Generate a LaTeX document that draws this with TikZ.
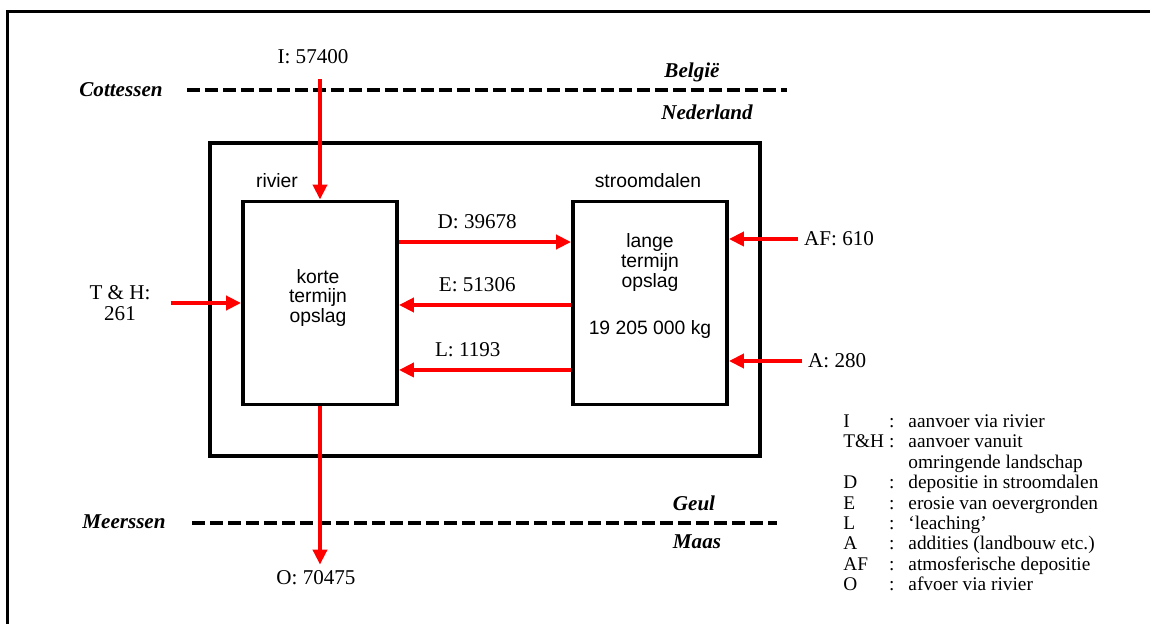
\documentclass[tikz,border=0pt]{standalone}
\usepackage{fontspec}
\setmainfont{Liberation Serif}
\setsansfont{Liberation Sans}
\usepackage{tikz}
\usetikzlibrary{arrows.meta, positioning}

\begin{document}
\begin{tikzpicture}[x=0.02cm, y=-0.02cm,
        store/.style={rectangle, draw, line width=2.2pt, minimum width=3.08cm, minimum height=4.06cm},
        system/.style={rectangle, draw, line width=2.2pt, minimum width=11cm, minimum height=6.26cm},
        boxtext/.style={align=center, font=\sffamily\fontsize{11}{11.3}\selectfont},
        flow/.style={-{Triangle[length=0.3cm, width=0.28cm]}, red, line width=2.2pt},
        border/.style={dash pattern=on 0.26cm off 0.1cm, line width=2.5pt},
        place/.style={font=\bfseries\itshape\fontsize{12}{14}\selectfont},
        amount/.style={align=center, text=black, font=\fontsize{12}{11.5}\selectfont}
    ]
        \useasboundingbox (0,0) rectangle (1150,624);
        \draw[line width=1.9pt] (7.5,624) -- (7.5,11.5) -- (1150,11.5);

        % grenzen
        \draw[border] (187,90) -- (787,90);
        \draw[border] (192,523) -- (777,523);
        \node[place] (cot) at (121,90) {Cottessen};
        \node[place] (bel) at (692,72) {België};
        \node[place] (ned) at (707,112) {Nederland};
        \node[place] (mee) at (124,522) {Meerssen};
        \node[place] (geul) at (694,503) {Geul};
        \node[place] (maas) at (697,542) {Maas};

        % compartimenten
        \node[system] (sys) at (485,299.5) {};
        \node[store] (lb) at (320,303) {};
        \node[store] (rb) at (650,303) {};
        \node[boxtext] (riv) at (277,181) {rivier};
        \node[boxtext] (str) at (648,181) {stroomdalen};
        \node[boxtext] (kort) at (318,298) {korte\\termijn\\opslag};
        \node[boxtext] (lang) at (650,286) {lange\\termijn\\opslag\\[15.5pt]19 205 000 kg};

        % fluxen
        \node[amount] (iin) at (313,57) {I: 57400};
        \node[amount] (out) at (316,578) {O: 70475};
        \node[amount] (tnh) at (120,303) {T \& H:\\261};
        \node[amount, anchor=west] (af) at (798,239) {AF: 610};
        \node[amount, anchor=west] (add) at (802,361) {A: 280};

        \draw[flow, shorten <=0.18cm] (iin.south -| lb.north) -- (lb.north);
        \draw[flow] (lb.south) -- (lb.south |- out.north);
        \draw[flow, shorten <=0.28cm] (tnh.east) -- (tnh.east -| lb.west);
        \draw[flow] (af.west) -- (af.west -| rb.east);
        \draw[flow] (add.west) -- (add.west -| rb.east);

        \draw[flow] ([yshift=1.22cm]lb.east) -- ([yshift=1.22cm]rb.west) node[amount, pos=0.455, above=3pt] {D: 39678};
        \draw[flow] ([yshift=-0.04cm]rb.west) -- ([yshift=-0.04cm]lb.east) node[amount, pos=0.545, above=3pt] {E: 51306};
        \draw[flow] ([yshift=-1.34cm]rb.west) -- ([yshift=-1.34cm]lb.east) node[amount, pos=0.6, above=3pt] {L: 1193};

        % legenda
        \node[anchor=north west, inner sep=0pt, font=\fontsize{11}{11.6}\selectfont] (legend) at (843,413) {%
            \begin{tabular}{@{}p{26pt}@{}l@{\hspace{8pt}}l@{}}
                I & : & aanvoer via rivier\\
                T\&H & : & aanvoer vanuit\\
                 & & omringende landschap\\
                D & : & depositie in stroomdalen\\
                E & : & erosie van oevergronden\\
                L & : & `leaching'\\
                A & : & addities (landbouw etc.)\\
                AF & : & atmosferische depositie\\
                O & : & afvoer via rivier
            \end{tabular}};
    \end{tikzpicture}
\end{document}
